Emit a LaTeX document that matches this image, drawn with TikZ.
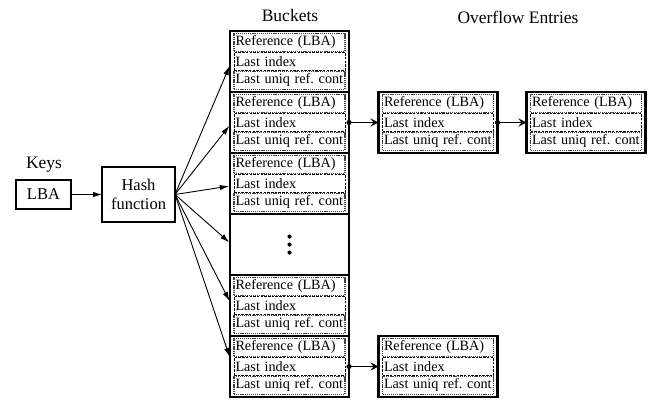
\documentclass[tikz,border=0pt]{standalone}
\usepackage{fontspec}
\setmainfont{Liberation Serif}
\usetikzlibrary{arrows.meta,calc}

\frenchspacing
\newcommand\txtfont{\fontsize{14.2}{16}\selectfont}
\newcommand\boxfont{\fontsize{16.5}{19}\selectfont}
\newcommand\titlefont{\fontsize{17.5}{19}\selectfont}

\tikzset{
  outerbox/.style={draw, line width=2.4pt, minimum width=119pt, minimum height=61pt,
    inner sep=0pt, outer sep=0pt},
  plainbox/.style={draw, line width=1.3pt, inner sep=0pt, outer sep=0pt, align=center, font=\boxfont},
  fieldbase/.style={minimum width=111pt, minimum height=18pt, inner sep=0pt,
    text width=108pt, align=left, font=\txtfont},
  fieldgrey/.style={fieldbase, draw=black!75, line width=1.1pt, dash pattern=on 1.2pt off 0.9pt},
  fieldplain/.style={fieldbase, draw, line width=0.6pt, dash pattern=on 2.5pt off 1.2pt},
  hasharrow/.style={-{Latex[length=9pt,width=5.5pt]}, line width=0.9pt, shorten >=1.2pt},
  chainarrow/.style={-{Stealth[length=8pt,width=8pt,inset=3pt]}, line width=1.1pt},
  titletext/.style={font=\titlefont, inner sep=0pt}
}

% a record box with its three fields: name, centre
\newcommand\recordbox[2]{%
  \node[outerbox] (#1) at (#2) {};
  \node[fieldgrey]  (#1-ref) at ($(#1.north)+(0,11.5)$) {\mbox{Reference (LBA)}};
  \node[fieldplain] (#1-idx) at ($(#1.north)+(0,30.5)$) {\mbox{Last index}};
  \node[fieldgrey]  (#1-cnt) at ($(#1.north)+(0,49.5)$) {\mbox{Last uniq ref.\ cont}};
}

\begin{document}
\begin{tikzpicture}[x=1pt,y=-1pt]
  \useasboundingbox (0,0) rectangle (655,399);

  % column titles
  \node[titletext] (tb) at (290,16) {Buckets};
  \node[titletext] (to) at (518,17) {Overflow Entries};

  % key and hash function
  \node[titletext] (keys) at (44,165) {Keys};
  \node[plainbox, minimum width=55pt, minimum height=29pt] (lba) at (43.5,194.5) {LBA};
  \node[plainbox, minimum width=73pt, minimum height=55pt] (hash) at (138.5,194.5) {Hash\\function};
  \draw[hasharrow, shorten >=0pt] (lba) -- (hash);

  % bucket table
  \recordbox{b1}{289.5,61.5}
  \recordbox{b2}{289.5,122.5}
  \recordbox{b3}{289.5,183.5}
  \node[outerbox] (b4) at (289.5,244.5) {};
  \recordbox{b5}{289.5,305.5}
  \recordbox{b6}{289.5,366.5}

  % vertical ellipsis in the elided bucket
  \foreach \dy in {-8,0,8}
    \fill ($(b4.center)+(0,\dy)$) circle (2.1pt);

  % overflow chains
  \recordbox{o1}{438,122.5}
  \recordbox{o2}{586,122.5}
  \recordbox{o3}{438,366.5}

  % hash fan-out to the buckets
  \draw[hasharrow] (hash.east) -- ($(b1.west)+(0,3.5)$);
  \draw[hasharrow] (hash.east) -- ($(b2.west)+(0,2.5)$);
  \draw[hasharrow] (hash.east) -- ($(b3.west)+(0,2.5)$);
  \draw[hasharrow] (hash.east) -- ($(b4.west)+(0,-1.5)$);
  \draw[hasharrow] (hash.east) -- ($(b5.west)+(0,-3.5)$);
  \draw[hasharrow] (hash.east) -- ($(b6.west)+(0,-8.5)$);

  % links to overflow entries
  \coordinate (d2) at (b2.east |- b2-idx.center);
  \coordinate (d6) at (b6.east |- b6-idx.center);
  \coordinate (e1) at (o1.east |- o1-idx.center);
  \fill (d2) circle (2.6pt);
  \fill (d6) circle (2.6pt);
  \fill (e1) circle (2.6pt);
  \draw[chainarrow] (d2) -- (o1.west |- d2);
  \draw[chainarrow] (e1) -- (o2.west |- e1);
  \draw[chainarrow] (d6) -- (o3.west |- d6);
\end{tikzpicture}
\end{document}
